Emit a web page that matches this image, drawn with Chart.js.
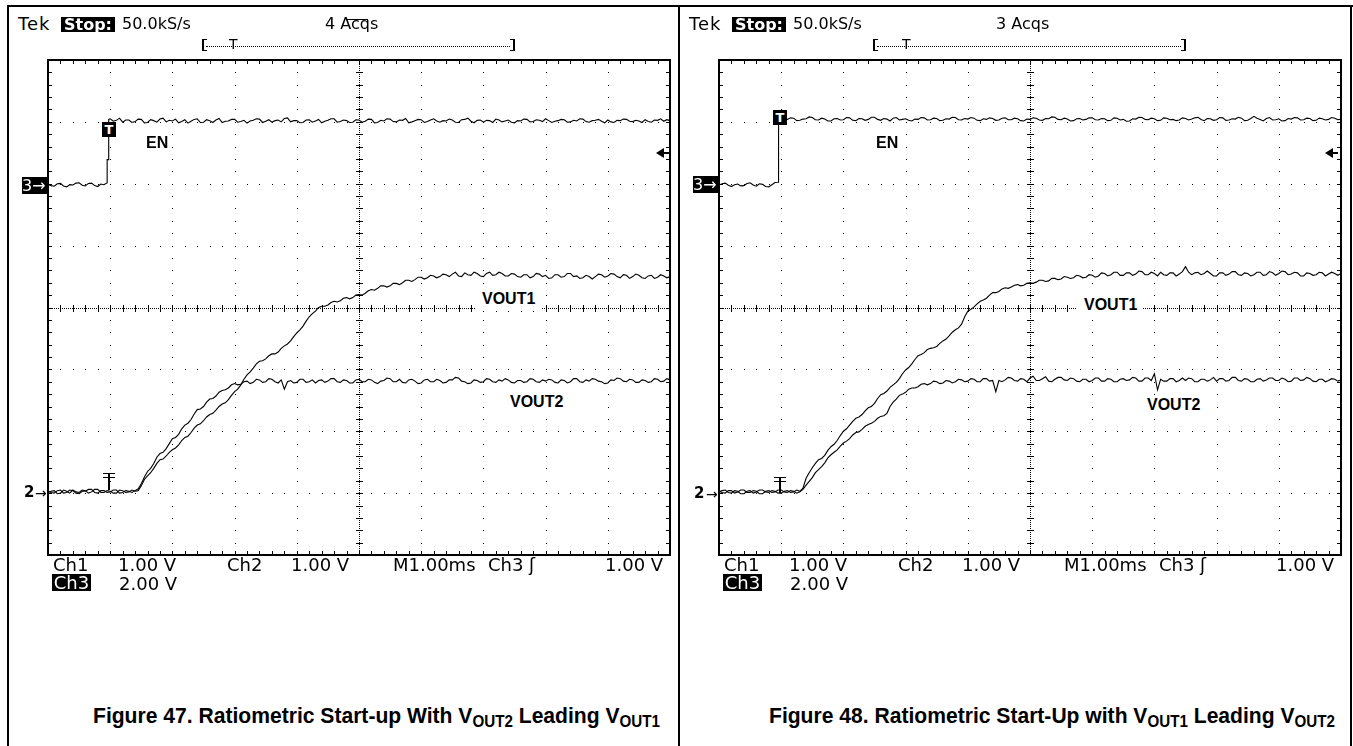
<!DOCTYPE html>
<html><head><meta charset="utf-8">
<script src="https://cdn.jsdelivr.net/npm/chart.js@4.4.1/dist/chart.umd.min.js"></script>
<style>
html,body{margin:0;padding:0;background:#fff;}
#page{position:relative;width:1353px;height:746px;overflow:hidden;background:#fff;}
canvas{position:absolute;}
.t{position:absolute;white-space:nowrap;line-height:1;color:#000;}
.sc{font-family:"DejaVu Sans",sans-serif;}
.lab{font-family:"Liberation Sans",Arial,sans-serif;font-weight:bold;font-size:16px;background:#fff;}
.inv{background:#000;color:#fff;text-align:center;}
.ln{position:absolute;background:#000;}
.cap{font-family:"Liberation Sans",Arial,sans-serif;font-weight:bold;font-size:22px;transform-origin:0 0;}
.cap sub{font-size:72%;vertical-align:-0.28em;line-height:0;}
.tri{position:absolute;width:0;height:0;border-top:5px solid transparent;border-bottom:5px solid transparent;border-right:8px solid #000;}
</style></head><body><div id="page">
<div class="ln" style="left:7px;top:5px;width:1346px;height:2px"></div>
<div class="ln" style="left:7px;top:5px;width:2px;height:741px"></div>
<div class="ln" style="left:678px;top:5px;width:2px;height:741px"></div>
<div class="ln" style="left:1350px;top:5px;width:2px;height:741px"></div>

<canvas id="c47" width="642" height="515" style="left:38px;top:50px"></canvas>
<canvas id="c48" width="642" height="515" style="left:709px;top:50px"></canvas>

<!-- ===== Figure 47 overlay ===== -->
<div class="t sc" style="left:18px;top:15px;font-size:18px;letter-spacing:1px">Tek</div>
<div class="t sc inv" style="left:61px;top:17px;width:54px;height:15px;line-height:15px;font-size:16px;font-weight:bold">Stop:</div>
<div class="t sc" style="left:122px;top:16px;font-size:16px">50.0kS/s</div>
<div class="t sc" style="left:325px;top:16px;font-size:16px">4 Acqs</div>
<div class="ln" style="left:347px;top:19px;width:21px;height:1px"></div>
<div style="position:absolute;left:202px;top:39px;width:3px;height:10px;border-left:2px solid #000;border-top:1px solid #000;border-bottom:1px solid #000"></div>
<div style="position:absolute;left:510px;top:39px;width:3px;height:10px;border-right:2px solid #000;border-top:1px solid #000;border-bottom:1px solid #000"></div>
<div style="position:absolute;left:206px;top:46px;width:304px;border-top:1px dotted #000"></div>
<div class="t sc" style="left:229px;top:37px;font-size:14px">T</div>

<div class="t sc" style="left:53px;top:556px;font-size:18px">Ch1</div>
<div class="t sc" style="left:118px;top:556px;font-size:18px">1.00 V</div>
<div class="t sc" style="left:227px;top:556px;font-size:18px">Ch2</div>
<div class="t sc" style="left:291px;top:556px;font-size:18px">1.00 V</div>
<div class="t sc" style="left:393px;top:556px;font-size:18px">M1.00ms</div>
<div class="t sc" style="left:488px;top:556px;font-size:18px">Ch3</div>
<div class="t sc" style="left:529px;top:556px;font-size:18px">ʃ</div>
<div class="t sc" style="left:605px;top:556px;font-size:18px">1.00 V</div>
<div class="t sc inv" style="left:52px;top:574px;width:39px;height:17px;line-height:17px;font-size:18px">Ch3</div>
<div class="t sc" style="left:119px;top:575px;font-size:18px">2.00 V</div>

<div class="t lab" style="left:146px;top:135px">EN</div>
<div class="t lab" style="left:476px;top:289px;padding:2px 6px 4px 6px">VOUT1</div>
<div class="t lab" style="left:508px;top:393px;padding:1px 2px">VOUT2</div>

<div class="t sc inv" style="left:22px;top:177px;width:26px;height:17px;line-height:17px;font-size:16px;text-align:left">3→</div>
<div class="t sc" style="left:24px;top:485px;font-size:15px;font-weight:bold">2</div>
<div class="t sc" style="left:35px;top:486px;font-size:14px">→</div>
<div class="t sc inv" style="left:102px;top:122px;width:14px;height:15px;line-height:15px;font-size:13px;font-weight:bold">T</div>
<div class="tri" style="left:656px;top:148px"></div>
<div class="ln" style="left:662px;top:152px;width:7px;height:2px"></div>
<div class="ln" style="left:103px;top:473px;width:12px;height:1px"></div>
<div class="ln" style="left:103px;top:477px;width:12px;height:1px"></div>
<div class="ln" style="left:108px;top:473px;width:2px;height:17px"></div>

<div class="t cap" id="cap47" style="left:93px;top:705px">Figure 47. Ratiometric Start-up With V<sub>OUT2</sub> Leading V<sub>OUT1</sub></div>

<!-- ===== Figure 48 overlay ===== -->
<div class="t sc" style="left:689px;top:15px;font-size:18px;letter-spacing:1px">Tek</div>
<div class="t sc inv" style="left:732px;top:17px;width:54px;height:15px;line-height:15px;font-size:16px;font-weight:bold">Stop:</div>
<div class="t sc" style="left:793px;top:16px;font-size:16px">50.0kS/s</div>
<div class="t sc" style="left:996px;top:16px;font-size:16px">3 Acqs</div>
<div style="position:absolute;left:873px;top:39px;width:3px;height:10px;border-left:2px solid #000;border-top:1px solid #000;border-bottom:1px solid #000"></div>
<div style="position:absolute;left:1181px;top:39px;width:3px;height:10px;border-right:2px solid #000;border-top:1px solid #000;border-bottom:1px solid #000"></div>
<div style="position:absolute;left:877px;top:46px;width:304px;border-top:1px dotted #000"></div>
<div class="t sc" style="left:902px;top:37px;font-size:14px">T</div>

<div class="t sc" style="left:724px;top:556px;font-size:18px">Ch1</div>
<div class="t sc" style="left:789px;top:556px;font-size:18px">1.00 V</div>
<div class="t sc" style="left:898px;top:556px;font-size:18px">Ch2</div>
<div class="t sc" style="left:962px;top:556px;font-size:18px">1.00 V</div>
<div class="t sc" style="left:1064px;top:556px;font-size:18px">M1.00ms</div>
<div class="t sc" style="left:1159px;top:556px;font-size:18px">Ch3</div>
<div class="t sc" style="left:1200px;top:556px;font-size:18px">ʃ</div>
<div class="t sc" style="left:1276px;top:556px;font-size:18px">1.00 V</div>
<div class="t sc inv" style="left:723px;top:574px;width:39px;height:17px;line-height:17px;font-size:18px">Ch3</div>
<div class="t sc" style="left:790px;top:575px;font-size:18px">2.00 V</div>

<div class="t lab" style="left:876px;top:135px">EN</div>
<div class="t lab" style="left:1077px;top:293px;padding:4px 6px 4px 7px">VOUT1</div>
<div class="t lab" style="left:1145px;top:396px;padding:1px 2px">VOUT2</div>

<div class="t sc inv" style="left:693px;top:176px;width:26px;height:17px;line-height:17px;font-size:16px;text-align:left">3→</div>
<div class="t sc" style="left:694px;top:486px;font-size:15px;font-weight:bold">2</div>
<div class="t sc" style="left:706px;top:487px;font-size:14px">→</div>
<div class="t sc inv" style="left:773px;top:110px;width:14px;height:15px;line-height:15px;font-size:13px;font-weight:bold">T</div>
<div class="tri" style="left:1325px;top:148px"></div>
<div class="ln" style="left:1331px;top:152px;width:7px;height:2px"></div>
<div class="ln" style="left:774px;top:477px;width:12px;height:1px"></div>
<div class="ln" style="left:774px;top:481px;width:12px;height:1px"></div>
<div class="ln" style="left:779px;top:477px;width:2px;height:16px"></div>

<div class="t cap" id="cap48" style="left:769px;top:705px">Figure 48. Ratiometric Start-Up with V<sub>OUT1</sub> Leading V<sub>OUT2</sub></div>
</div>
<script>
// ---------------- DATA ----------------
// sample times in ms from the left edge of the screen (M 1.00 ms/div)
const TIME_MS = [
0.00,0.05,0.10,0.15,0.20,0.25,0.30,0.35,0.40,0.45,
0.50,0.55,0.60,0.65,0.70,0.75,0.80,0.85,0.90,0.95,
1.00,1.05,1.10,1.15,1.20,1.25,1.30,1.35,1.40,1.45,
1.50,1.55,1.60,1.65,1.70,1.75,1.80,1.85,1.90,1.95,
2.00,2.05,2.10,2.15,2.20,2.25,2.30,2.35,2.40,2.45,
2.50,2.55,2.60,2.65,2.70,2.75,2.80,2.85,2.90,2.95,
3.00,3.05,3.10,3.15,3.20,3.25,3.30,3.35,3.40,3.45,
3.50,3.55,3.60,3.65,3.70,3.75,3.80,3.85,3.90,3.95,
4.00,4.05,4.10,4.15,4.20,4.25,4.30,4.35,4.40,4.45,
4.50,4.55,4.60,4.65,4.70,4.75,4.80,4.85,4.90,4.95,
5.00,5.05,5.10,5.15,5.20,5.25,5.30,5.35,5.40,5.45,
5.50,5.55,5.60,5.65,5.70,5.75,5.80,5.85,5.90,5.95,
6.00,6.05,6.10,6.15,6.20,6.25,6.30,6.35,6.40,6.45,
6.50,6.55,6.60,6.65,6.70,6.75,6.80,6.85,6.90,6.95,
7.00,7.05,7.10,7.15,7.20,7.25,7.30,7.35,7.40,7.45,
7.50,7.55,7.60,7.65,7.70,7.75,7.80,7.85,7.90,7.95,
8.00,8.05,8.10,8.15,8.20,8.25,8.30,8.35,8.40,8.45,
8.50,8.55,8.60,8.65,8.70,8.75,8.80,8.85,8.90,8.95,
9.00,9.05,9.10,9.15,9.20,9.25,9.30,9.35,9.40,9.45,
9.50,9.55,9.60,9.65,9.70,9.75,9.80,9.85,9.90,9.95,
10.00];

// channel settings: volts per division and ground marker (divisions from centre)
const CH3_VDIV = 2.0, CH3_GROUND = 2;
const CH12_VDIV = 1.0, CH12_GROUND = -3;

// ---- Figure 47 (V) ----
const EN_47 = [
-0.02,-0.06,-0.08,0.00,0.01,-0.07,-0.10,-0.03,-0.04,0.02,
0.03,-0.05,-0.07,0.01,0.02,-0.06,-0.09,-0.01,-0.03,0.03,
2.10,2.02,2.05,2.12,1.99,2.06,2.06,1.98,2.01,2.09,
2.08,1.97,1.98,2.07,2.04,1.99,2.09,2.12,2.00,2.05,
2.03,2.09,1.97,2.01,2.07,1.96,2.02,2.08,2.10,1.98,
1.99,2.07,2.04,1.98,2.06,2.11,1.98,2.02,2.03,2.08,
2.08,1.99,2.01,2.05,1.96,2.03,2.05,2.10,2.09,1.98,
2.02,2.07,1.99,2.04,2.06,2.00,2.11,2.13,2.00,2.04,
2.04,1.97,1.98,2.06,2.07,1.99,2.03,2.08,1.97,2.02,
2.05,2.10,2.10,1.99,2.01,2.06,2.04,1.98,1.99,2.07,
2.06,1.99,2.02,2.09,2.08,1.97,1.98,2.05,2.03,2.10,
2.09,2.01,2.00,2.06,2.05,2.11,1.97,2.00,2.04,2.08,
2.07,1.98,2.01,2.06,2.10,2.03,1.99,2.04,2.03,2.09,
2.06,1.99,1.98,2.07,2.08,2.12,2.02,1.97,2.05,2.06,
1.99,2.05,2.04,1.98,2.09,2.06,2.00,2.03,2.06,1.99,
1.97,2.04,2.03,2.09,2.08,2.00,2.01,2.07,2.05,2.01,
2.10,2.04,1.98,2.02,2.04,2.08,2.07,1.99,2.00,2.05,
2.03,2.10,2.09,2.01,1.99,2.04,2.05,2.08,2.02,1.97,
2.06,2.00,1.98,2.05,2.04,2.09,2.08,2.02,2.01,2.05,
2.03,1.98,2.07,2.01,1.99,2.06,2.05,2.10,2.02,2.07,
2.04];
const EN_47_EDGE_T = [0.951,0.975,0.976];
const EN_47_EDGE_V = [0.78,0.78,2.08];
const VOUT1_47 = [
0.01,0.03,0.04,-0.01,0.00,0.05,0.03,0.00,0.05,0.02,
0.01,0.05,0.04,0.00,0.02,0.06,0.06,0.01,0.01,0.04,
0.03,0.00,0.00,0.05,0.04,0.01,0.02,0.05,0.03,0.04,
0.12,0.22,0.28,0.33,0.40,0.48,0.54,0.55,0.60,0.66,
0.70,0.73,0.78,0.85,0.90,0.92,0.98,1.05,1.10,1.12,
1.17,1.23,1.27,1.29,1.34,1.40,1.44,1.46,1.51,1.58,
1.64,1.68,1.75,1.84,1.91,1.96,2.02,2.09,2.13,2.14,
2.17,2.22,2.25,2.25,2.28,2.34,2.38,2.41,2.46,2.53,
2.59,2.64,2.70,2.78,2.85,2.90,2.94,3.00,3.02,3.02,
3.04,3.08,3.10,3.09,3.11,3.15,3.16,3.14,3.16,3.20,
3.21,3.20,3.23,3.27,3.29,3.28,3.31,3.35,3.35,3.33,
3.35,3.39,3.39,3.37,3.40,3.44,3.44,3.42,3.45,3.49,
3.49,3.46,3.48,3.52,3.51,3.48,3.50,3.54,3.53,3.50,
3.54,3.57,3.51,3.50,3.56,3.53,3.52,3.57,3.55,3.51,
3.50,3.55,3.57,3.52,3.53,3.57,3.55,3.51,3.51,3.55,
3.54,3.50,3.49,3.53,3.53,3.48,3.50,3.55,3.54,3.50,
3.52,3.47,3.48,3.53,3.53,3.49,3.50,3.55,3.55,3.50,
3.51,3.47,3.48,3.52,3.50,3.46,3.50,3.54,3.53,3.49,
3.51,3.55,3.54,3.50,3.48,3.53,3.52,3.47,3.50,3.54,
3.52,3.48,3.47,3.51,3.52,3.47,3.49,3.53,3.51,3.48,
3.50];
const VOUT2_47 = [
0.03,0.01,0.00,0.04,0.05,0.00,0.01,0.05,0.04,0.00,
-0.01,0.03,0.03,0.06,0.06,0.01,0.00,0.04,0.04,0.01,
0.02,0.05,0.05,0.00,0.01,0.04,0.03,0.01,0.04,0.07,
0.15,0.26,0.35,0.40,0.48,0.58,0.64,0.66,0.72,0.80,
0.88,0.90,0.95,1.04,1.10,1.13,1.19,1.28,1.35,1.36,
1.40,1.47,1.52,1.53,1.57,1.63,1.66,1.67,1.70,1.75,
1.77,1.75,1.76,1.80,1.81,1.77,1.79,1.84,1.83,1.79,
1.80,1.85,1.84,1.80,1.78,1.83,1.68,1.80,1.82,1.78,
1.79,1.84,1.84,1.79,1.80,1.83,1.78,1.82,1.83,1.79,
1.81,1.85,1.85,1.80,1.79,1.83,1.82,1.78,1.78,1.83,
1.84,1.80,1.80,1.84,1.83,1.79,1.77,1.81,1.82,1.86,
1.85,1.80,1.80,1.84,1.79,1.78,1.83,1.84,1.81,1.77,
1.78,1.83,1.84,1.80,1.80,1.84,1.82,1.78,1.79,1.83,
1.83,1.87,1.86,1.81,1.80,1.77,1.78,1.83,1.82,1.79,
1.80,1.85,1.84,1.80,1.79,1.83,1.81,1.85,1.83,1.79,
1.78,1.82,1.82,1.79,1.80,1.85,1.84,1.80,1.79,1.83,
1.81,1.84,1.83,1.79,1.78,1.83,1.82,1.78,1.80,1.85,
1.85,1.80,1.79,1.83,1.81,1.85,1.84,1.81,1.80,1.77,
1.78,1.83,1.82,1.86,1.85,1.81,1.80,1.84,1.83,1.79,
1.79,1.83,1.82,1.79,1.80,1.85,1.84,1.80,1.81,1.85,
1.83];

// ---- Figure 48 (V) ----
const EN_48 = [
-0.04,0.00,0.02,-0.05,-0.09,-0.03,-0.01,-0.07,-0.06,0.01,
0.03,-0.04,-0.08,0.00,-0.02,-0.09,-0.10,-0.03,0.04,0.05,
2.15,2.11,2.08,2.13,2.12,2.04,2.05,2.09,2.10,2.16,
2.14,2.07,2.06,2.12,2.09,2.03,2.03,2.10,2.11,2.06,
2.07,2.14,2.13,2.05,2.04,2.11,2.10,2.05,2.08,2.15,
2.15,2.08,2.05,2.11,2.09,2.03,2.12,2.14,2.06,2.08,
2.10,2.05,2.03,2.09,2.08,2.14,2.13,2.06,2.07,2.12,
2.11,2.04,2.05,2.10,2.09,2.15,2.14,2.07,2.06,2.11,
2.09,2.14,2.12,2.05,2.04,2.10,2.08,2.13,2.11,2.05,
2.06,2.12,2.13,2.07,2.07,2.12,2.10,2.04,2.03,2.09,
2.08,2.13,2.12,2.06,2.05,2.11,2.10,2.16,2.15,2.08,
2.07,2.12,2.09,2.03,2.04,2.10,2.11,2.06,2.08,2.13,
2.13,2.07,2.06,2.11,2.10,2.04,2.05,2.13,2.12,2.06,
2.08,2.02,2.03,2.10,2.09,2.15,2.14,2.08,2.07,2.12,
2.10,2.04,2.05,2.13,2.12,2.07,2.08,2.04,2.06,2.13,
2.11,2.06,2.09,2.13,2.15,2.08,2.04,2.11,2.10,2.05,
2.07,2.14,2.13,2.05,2.06,2.10,2.09,2.15,2.12,2.04,
2.05,2.11,2.18,2.12,2.08,2.03,2.11,2.14,2.06,2.07,
2.10,2.03,2.04,2.11,2.09,2.14,2.13,2.06,2.07,2.12,
2.11,2.04,2.05,2.12,2.10,2.06,2.08,2.14,2.12,2.07,
2.09];
const EN_48_EDGE_T = [0.955,0.96];
const EN_48_EDGE_V = [0.06,2.16];
const VOUT1_48 = [
0.02,0.04,0.05,0.01,0.00,0.04,0.03,-0.01,-0.01,0.03,
0.04,0.00,0.02,0.05,0.05,0.02,0.01,0.04,0.03,0.00,
0.00,0.03,0.04,0.01,0.02,0.05,0.03,0.08,0.24,0.33,
0.41,0.48,0.54,0.56,0.61,0.69,0.75,0.79,0.85,0.93,
1.00,1.04,1.10,1.16,1.21,1.23,1.27,1.33,1.38,1.40,
1.45,1.53,1.59,1.61,1.65,1.71,1.75,1.79,1.85,1.93,
1.99,2.03,2.09,2.16,2.22,2.24,2.27,2.32,2.34,2.35,
2.37,2.42,2.46,2.49,2.54,2.60,2.64,2.67,2.73,2.85,
2.94,2.97,3.01,3.06,3.10,3.12,3.15,3.20,3.24,3.24,
3.26,3.30,3.32,3.31,3.33,3.36,3.37,3.35,3.36,3.39,
3.40,3.39,3.41,3.44,3.44,3.42,3.43,3.47,3.47,3.45,
3.46,3.50,3.49,3.47,3.48,3.52,3.51,3.48,3.49,3.53,
3.52,3.49,3.51,3.56,3.55,3.51,3.53,3.57,3.57,3.52,
3.52,3.56,3.56,3.52,3.54,3.59,3.58,3.53,3.53,3.57,
3.55,3.51,3.57,3.53,3.52,3.56,3.56,3.51,3.54,3.58,
3.66,3.57,3.53,3.56,3.57,3.53,3.55,3.59,3.55,3.51,
3.51,3.56,3.56,3.52,3.54,3.58,3.58,3.53,3.52,3.56,
3.55,3.51,3.53,3.57,3.57,3.52,3.53,3.58,3.56,3.52,
3.55,3.59,3.58,3.53,3.54,3.57,3.56,3.51,3.51,3.56,
3.55,3.52,3.53,3.57,3.56,3.51,3.54,3.57,3.55,3.52,
3.55];
const VOUT2_48 = [
0.03,0.01,0.00,0.04,0.04,0.00,0.02,0.05,0.05,0.01,
0.01,0.04,0.03,-0.01,-0.01,0.03,0.04,0.01,0.02,0.05,
0.05,0.02,0.01,0.04,0.03,0.00,0.02,0.06,0.13,0.19,
0.25,0.33,0.38,0.43,0.49,0.57,0.62,0.66,0.70,0.76,
0.81,0.84,0.88,0.94,0.98,0.99,1.03,1.08,1.11,1.13,
1.16,1.21,1.24,1.25,1.29,1.40,1.47,1.52,1.58,1.60,
1.63,1.68,1.70,1.70,1.72,1.76,1.77,1.75,1.77,1.81,
1.80,1.77,1.78,1.82,1.81,1.78,1.80,1.84,1.83,1.80,
1.81,1.85,1.84,1.80,1.80,1.85,1.85,1.81,1.82,1.64,
1.82,1.80,1.83,1.87,1.86,1.82,1.81,1.85,1.84,1.80,
1.86,1.89,1.82,1.82,1.85,1.88,1.81,1.80,1.84,1.87,
1.87,1.83,1.82,1.86,1.85,1.81,1.80,1.84,1.84,1.80,
1.82,1.86,1.86,1.81,1.81,1.85,1.84,1.80,1.80,1.84,
1.85,1.82,1.83,1.87,1.86,1.81,1.81,1.86,1.86,1.82,
1.93,1.67,1.84,1.81,1.81,1.85,1.85,1.80,1.82,1.86,
1.82,1.86,1.85,1.80,1.80,1.84,1.84,1.81,1.83,1.87,
1.81,1.85,1.85,1.81,1.82,1.87,1.87,1.82,1.81,1.85,
1.84,1.80,1.80,1.84,1.85,1.81,1.83,1.86,1.86,1.82,
1.82,1.86,1.84,1.80,1.81,1.86,1.86,1.82,1.83,1.87,
1.85,1.81,1.80,1.84,1.84,1.80,1.82,1.85,1.84,1.81,
1.83];

// ---------------- BUILD ----------------
function toPoints(ts, vs, vdiv, ground){
  return ts.map((t,i)=>({x:t, y: ground + vs[i]/vdiv}));
}
function withEdge(ts, vs, et, ev, vdiv, ground){
  return toPoints(ts, vs, vdiv, ground).concat(toPoints(et, ev, vdiv, ground)).sort((a,b)=>a.x-b.x);
}

const graticule = {
  id:'graticule',
  beforeDatasetsDraw(chart){
    const {ctx, chartArea:a, scales:{x, y}} = chart;
    const L=Math.round(a.left), R=Math.round(a.right), T=Math.round(a.top), B=Math.round(a.bottom);
    const px = v=>Math.round(x.getPixelForValue(v));
    const py = v=>Math.round(y.getPixelForValue(v));
    ctx.save();
    ctx.fillStyle='#000';
    for(let i=1;i<10;i++){ if(i===5) continue;
      const X=px(i);
      for(let j=1;j<40;j++) ctx.fillRect(X, py(-4+j*0.2), 1, 1);
    }
    for(let i=-3;i<=3;i++){ if(i===0) continue;
      const Y=py(i);
      for(let j=1;j<50;j++) ctx.fillRect(px(j*0.2), Y, 1, 1);
    }
    const CX=px(5), CY=py(0);
    for(let yy=T; yy<B; yy+=2) ctx.fillRect(CX, yy, 1, 1);
    for(let xx=L; xx<R; xx+=2) ctx.fillRect(xx, CY, 1, 1);
    for(let j=1;j<40;j++) ctx.fillRect(CX-3, py(-4+j*0.2), 7, 1);
    for(let j=1;j<50;j++) ctx.fillRect(px(j*0.2), CY-3, 1, 7);
    for(let j=1;j<50;j++){ const X=px(j*0.2); ctx.fillRect(X, T+1, 1, 3); ctx.fillRect(X, B-4, 1, 3); }
    for(let j=1;j<40;j++){ const Y=py(-4+j*0.2); ctx.fillRect(L+1, Y, 3, 1); ctx.fillRect(R-4, Y, 3, 1); }
    ctx.restore();
  },
  afterDatasetsDraw(chart){
    const {ctx, chartArea:a} = chart;
    const L=Math.round(a.left), R=Math.round(a.right), T=Math.round(a.top), B=Math.round(a.bottom);
    ctx.save(); ctx.fillStyle='#000';
    ctx.fillRect(L-1, T-1, R-L+2, 2);
    ctx.fillRect(L-1, B-1, R-L+2, 2);
    ctx.fillRect(L-1, T-1, 2, B-T+2);
    ctx.fillRect(R-1, T-1, 2, B-T+2);
    ctx.restore();
  }
};

function scope(id, datasets){
  return new Chart(document.getElementById(id), {
    type:'line',
    data:{datasets: datasets.map(d=>({data:d, borderColor:'#000', borderWidth:1.1, pointRadius:0, tension:0, fill:false}))},
    options:{
      responsive:false, animation:false, devicePixelRatio:1, events:[],
      layout:{padding:{left:10,right:10,top:10,bottom:10}},
      plugins:{legend:{display:false}, tooltip:{enabled:false}, title:{display:false}},
      scales:{
        x:{type:'linear', min:0, max:10, display:false},
        y:{type:'linear', min:-4, max:4, display:false}
      }
    },
    plugins:[graticule]
  });
}

scope('c47', [
  withEdge(TIME_MS, EN_47, EN_47_EDGE_T, EN_47_EDGE_V, CH3_VDIV, CH3_GROUND),
  toPoints(TIME_MS, VOUT1_47, CH12_VDIV, CH12_GROUND),
  toPoints(TIME_MS, VOUT2_47, CH12_VDIV, CH12_GROUND)
]);
scope('c48', [
  withEdge(TIME_MS, EN_48, EN_48_EDGE_T, EN_48_EDGE_V, CH3_VDIV, CH3_GROUND),
  toPoints(TIME_MS, VOUT1_48, CH12_VDIV, CH12_GROUND),
  toPoints(TIME_MS, VOUT2_48, CH12_VDIV, CH12_GROUND)
]);

[['cap47',567],['cap48',566]].forEach(([id,w])=>{
  const el=document.getElementById(id);
  const cw=el.getBoundingClientRect().width;
  el.style.transform='scaleX('+(w/cw)+')';
});
</script>
</body></html>
